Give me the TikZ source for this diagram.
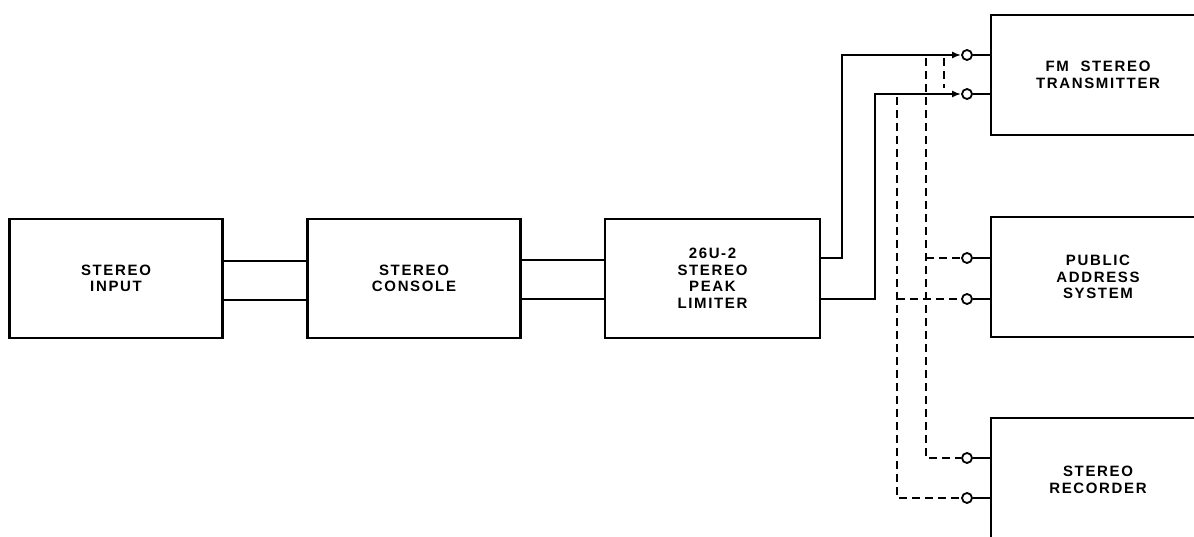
\documentclass[tikz,border=0pt]{standalone}
\usepackage{fontspec}
\setmainfont{Liberation Sans}[LetterSpace=11]
\usetikzlibrary{calc,arrows.meta}
\tikzset{
  blk/.style={draw, line width=2.6pt, minimum width=213pt, minimum height=119pt, inner sep=0pt,
    font=\fontsize{15pt}{16.5pt}\selectfont\bfseries, align=center},
  wire/.style={line width=2.2pt},
  dwire/.style={line width=1.8pt, dash pattern=on 8pt off 5pt},
  jack/.style={circle, draw, line width=1.8pt, minimum size=10pt, inner sep=0pt, fill=white},
  tip/.style={-{Latex[length=9pt,width=7pt]}}
}
\begin{document}
\begin{tikzpicture}[x=1pt,y=-1pt]
\useasboundingbox (0,0) rectangle (1194,537);
\clip (0,0) rectangle (1194,537);
% blocks
\node[blk] (in)  at (116,278.5) {STEREO\\INPUT};
\node[blk] (con) at (414,278.5) {STEREO\\CONSOLE};
\node[blk, minimum width=215pt] (lim) at (712.5,278.5) {26U-2\\STEREO\\PEAK\\LIMITER};
\node[blk, minimum width=214pt, minimum height=120pt] (fm) at (1098,75) {FM\ \ STEREO\\TRANSMITTER};
\node[blk, minimum width=214pt, minimum height=120pt] (pa) at (1098,277) {PUBLIC\\ADDRESS\\SYSTEM};
\node[blk, minimum width=214pt, minimum height=124pt] (rec) at (1098,480) {STEREO\\RECORDER};
% jacks
\node[jack] (c1) at (967,55) {};
\node[jack] (c2) at (967,94) {};
\node[jack] (p1) at (967,258) {};
\node[jack] (p2) at (967,299) {};
\node[jack] (r1) at (967,458) {};
\node[jack] (r2) at (967,498) {};
% input -> console -> limiter
\draw[wire] ($(in.east)+(0,-17.5)$) -- ($(con.west)+(0,-17.5)$);
\draw[wire] ($(in.east)+(0,21.5)$) -- ($(con.west)+(0,21.5)$);
\draw[wire] ($(con.east)+(0,-18.5)$) -- ($(lim.west)+(0,-18.5)$);
\draw[wire] ($(con.east)+(0,20.5)$) -- ($(lim.west)+(0,20.5)$);
% limiter -> transmitter
\draw[wire, tip] ($(lim.east)+(0,-20.5)$) -- ++(21,0) |- (c1.west);
\draw[wire, tip] ($(lim.east)+(0,20.5)$) -- ++(54,0) |- (c2.west);
\draw[wire] (c1.east) -- (fm.west |- c1);
\draw[wire] (c2.east) -- (fm.west |- c2);
\draw[wire] (p1.east) -- (pa.west |- p1);
\draw[wire] (p2.east) -- (pa.west |- p2);
\draw[wire] (r1.east) -- (rec.west |- r1);
\draw[wire] (r2.east) -- (rec.west |- r2);
% dashed taps
\coordinate (t1) at (926,58);
\coordinate (t2) at (897,97);
\coordinate (t3) at (944,58);
\draw[dwire] (t1) |- (r1.west);
\draw[dwire] (t1 |- p1) -- (p1.west);
\draw[dwire] (t2) |- (r2.west);
\draw[dwire] (t2 |- p2) -- (p2.west);
\draw[dwire] (t3) -- (t3 |- c2.north);
\end{tikzpicture}
\end{document}
